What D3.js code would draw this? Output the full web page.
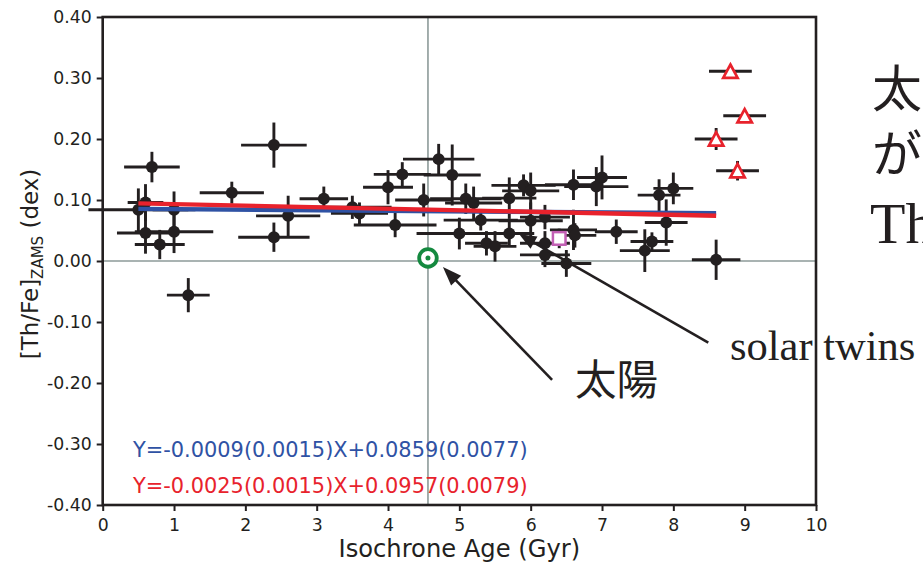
<!DOCTYPE html>
<html>
<head>
<meta charset="utf-8">
<script src="https://cdn.jsdelivr.net/npm/d3@7"></script>
<style>
  body { margin: 0; background: #fff; }
  svg { display: block; }
</style>
</head>
<body>
<svg id="chart" width="923" height="563"></svg>
<script>
// ---- data ---------------------------------------------------------------
// solar twins: isochrone age (Gyr), [Th/Fe]_ZAMS (dex) and their 1-sigma errors
const twinAge = [0.69, 2.40, 1.81, 1.20, 0.60, 0.50, 1.00, 0.60, 1.00, 0.80,
                 2.60, 2.40, 3.10, 3.50, 3.60, 4.00, 4.20, 4.71, 4.90, 4.50,
                 4.10, 5.09, 5.20, 5.30, 5.00, 5.38, 5.50, 5.70, 5.70, 5.90,
                 6.00, 6.00, 6.20, 6.20, 6.20, 6.50, 6.60, 6.60, 6.62, 6.92,
                 7.00, 7.20, 7.80, 8.00, 7.90, 7.70, 7.60, 8.60];
const twinThFe = [0.154, 0.190, 0.112, -0.056, 0.096, 0.084, 0.084, 0.046, 0.048, 0.027,
                  0.074, 0.039, 0.102, 0.088, 0.078, 0.121, 0.142, 0.167, 0.141, 0.100,
                  0.059, 0.102, 0.095, 0.067, 0.045, 0.029, 0.024, 0.103, 0.045, 0.124,
                  0.115, 0.066, 0.072, 0.029, 0.010, -0.004, 0.125, 0.051, 0.042, 0.122,
                  0.137, 0.048, 0.108, 0.119, 0.063, 0.032, 0.017, 0.002];
const twinAgeErr = [0.39, 0.46, 0.45, 0.30, 0.25, 0.70, 0.30, 0.40, 0.55, 0.35,
                    0.45, 0.50, 0.34, 0.55, 0.40, 0.35, 0.40, 0.50, 0.40, 0.40,
                    0.58, 0.50, 0.40, 0.52, 0.60, 0.30, 0.30, 0.38, 0.35, 0.45,
                    0.40, 0.45, 0.35, 0.35, 0.35, 0.35, 0.40, 0.33, 0.30, 0.45,
                    0.35, 0.30, 0.30, 0.28, 0.30, 0.30, 0.35, 0.34];
const twinThFeErr = [0.025, 0.037, 0.018, 0.028, 0.030, 0.035, 0.030, 0.034, 0.035, 0.024,
                     0.033, 0.024, 0.020, 0.019, 0.018, 0.028, 0.020, 0.025, 0.050, 0.027,
                     0.020, 0.025, 0.027, 0.017, 0.026, 0.020, 0.025, 0.034, 0.022, 0.018,
                     0.030, 0.030, 0.020, 0.020, 0.020, 0.022, 0.025, 0.033, 0.020, 0.032,
                     0.036, 0.020, 0.026, 0.026, 0.038, 0.015, 0.035, 0.033];

// oldest stars, plotted as open triangles
const oldAge = [8.80, 9.00, 8.60, 8.90];
const oldThFe = [0.311, 0.238, 0.200, 0.148];
const oldAgeErr = [0.30, 0.30, 0.30, 0.30];
const oldThFeErr = [0.004, 0.004, 0.018, 0.016];

// the Sun and one special twin (open square)
const sunAge = 4.56, sunThFe = 0.005;
const squareAge = 6.4, squareThFe = 0.037, squareThFeErr = 0.016;

// linear fits Y = a X + b (blue: all twins, red: alternative sample)
const fitSlope = [-0.0009, -0.0025];
const fitIntercept = [0.0859, 0.0957];
const fitAgeRange = [0.5, 8.6];
const fitLabels = ["Y=-0.0009(0.0015)X+0.0859(0.0077)",
                   "Y=-0.0025(0.0015)X+0.0957(0.0079)"];
const fitColors = ["#2f52a4", "#e8222c"];

// axis ticks
const xTicks = [0, 1, 2, 3, 4, 5, 6, 7, 8, 9, 10];
const yTicks = [-0.4, -0.3, -0.2, -0.1, 0.0, 0.1, 0.2, 0.3, 0.4];
const yTickLabels = ["-0.40", "-0.30", "-0.20", "-0.10", "0.00", "0.10", "0.20", "0.30", "0.40"];

// ---- layout -------------------------------------------------------------
const ink = "#231f20";
const svg = d3.select("#chart");
const x = d3.scaleLinear().domain([0, 10]).range([102.7, 816]);
const y = d3.scaleLinear().domain([-0.4, 0.4]).range([505, 17]);

// side text that runs behind the plot frame
const side = svg.append("g").attr("fill", ink);
side.append("text").attr("x", 872).attr("y", 107)
  .style("font", "50px 'Noto Sans CJK JP'").text("太");
side.append("text").attr("x", 872).attr("y", 172)
  .style("font", "50px 'Noto Sans CJK JP'").text("が");
side.append("text").attr("x", 870).attr("y", 243)
  .style("font", "58px 'Liberation Serif'").text("Th");
side.append("text").attr("x", 730).attr("y", 360)
  .style("font", "42.5px 'Liberation Serif'").text("solar twins");
side.append("text").attr("x", 575).attr("y", 395)
  .style("font", "41.5px 'Noto Sans CJK JP'").text("太陽");

// reference lines through the Sun
svg.append("line")
  .attr("x1", x(sunAge)).attr("x2", x(sunAge)).attr("y1", y(0.4)).attr("y2", y(-0.4))
  .attr("stroke", "#8c9a99").attr("stroke-width", 1.6);
svg.append("line")
  .attr("x1", x(0)).attr("x2", x(10)).attr("y1", y(0)).attr("y2", y(0))
  .attr("stroke", "#8c9a99").attr("stroke-width", 1.6);

// error bars
const twins = twinAge.map((a, i) => ({a, v: twinThFe[i], ea: twinAgeErr[i], ev: twinThFeErr[i]}));
const olds = oldAge.map((a, i) => ({a, v: oldThFe[i], ea: oldAgeErr[i], ev: oldThFeErr[i]}));
const bars = svg.append("g").attr("stroke", ink).attr("stroke-width", 2.9);
[...twins, ...olds].forEach(d => {
  bars.append("line").attr("x1", x(d.a - d.ea)).attr("x2", x(d.a + d.ea))
    .attr("y1", y(d.v)).attr("y2", y(d.v));
  bars.append("line").attr("x1", x(d.a)).attr("x2", x(d.a))
    .attr("y1", y(d.v - d.ev)).attr("y2", y(d.v + d.ev));
});
bars.append("line").attr("x1", x(squareAge)).attr("x2", x(squareAge))
  .attr("y1", y(squareThFe - squareThFeErr)).attr("y2", y(squareThFe + squareThFeErr));

// twin points
svg.append("g").selectAll("circle").data(twins).join("circle")
  .attr("cx", d => x(d.a)).attr("cy", d => y(d.v)).attr("r", 6).attr("fill", ink);

// fit lines
const fits = fitSlope.map((s, i) => ({s, b: fitIntercept[i], c: fitColors[i]}));
const fitLine = d3.line().x(p => x(p[0])).y(p => y(p[1]));
svg.append("g").selectAll("path").data(fits).join("path")
  .attr("d", f => fitLine(fitAgeRange.map(a => [a, f.s * a + f.b])))
  .attr("stroke", f => f.c).attr("stroke-width", 4.4).attr("fill", "none");

// old stars: open red triangles
svg.append("g").selectAll("path").data(olds).join("path")
  .attr("transform", d => `translate(${x(d.a)},${y(d.v)})`)
  .attr("d", "M0,-6.8L7.2,6.6L-7.2,6.6Z")
  .attr("fill", "#fff").attr("stroke", "#e8222c").attr("stroke-width", 2.7)
  .attr("stroke-linejoin", "miter");

// special twin: open square
svg.append("rect")
  .attr("x", x(squareAge) - 6.3).attr("y", y(squareThFe) - 6.3)
  .attr("width", 12.6).attr("height", 12.6)
  .attr("fill", "#fff").attr("stroke", "#c25fb4").attr("stroke-width", 2.5);

// the Sun
svg.append("circle").attr("cx", x(sunAge)).attr("cy", y(sunThFe)).attr("r", 8.8)
  .attr("fill", "#fff").attr("stroke", "#14893f").attr("stroke-width", 3.8);
svg.append("circle").attr("cx", x(sunAge)).attr("cy", y(sunThFe)).attr("r", 2.5)
  .attr("fill", "#14893f");

// annotation arrows (tail -> tip, in data units)
function arrow(tail, tip, len, wid) {
  const T = [x(tail[0]), y(tail[1])], P = [x(tip[0]), y(tip[1])];
  const dx = P[0] - T[0], dy = P[1] - T[1], L = Math.hypot(dx, dy);
  const ux = dx / L, uy = dy / L, nx = -uy, ny = ux;
  const B = [P[0] - ux * len, P[1] - uy * len];
  svg.append("line").attr("x1", T[0]).attr("y1", T[1])
    .attr("x2", B[0] + ux * 2).attr("y2", B[1] + uy * 2)
    .attr("stroke", ink).attr("stroke-width", 2.6);
  svg.append("path")
    .attr("d", `M${P[0]},${P[1]}L${B[0] + nx * wid / 2},${B[1] + ny * wid / 2}L${B[0] - nx * wid / 2},${B[1] - ny * wid / 2}Z`)
    .attr("fill", ink);
}
arrow([6.30, -0.195], [4.77, -0.0098], 19, 14);
arrow([8.49, -0.134], [5.84, 0.044], 17, 14);

// fit equations
svg.append("g").selectAll("text").data(fitLabels).join("text")
  .attr("x", 133).attr("y", (d, i) => [456.5, 493][i])
  .attr("fill", (d, i) => fitColors[i])
  .style("font", "20.9px 'DejaVu Sans'").text(d => d);

// axes
const xAxis = svg.append("g").attr("transform", `translate(0,${y(-0.4)})`)
  .call(d3.axisBottom(x).tickValues(xTicks).tickFormat(d3.format("d")).tickSize(6).tickPadding(8));
const yAxis = svg.append("g").attr("transform", `translate(${x(0)},0)`)
  .call(d3.axisLeft(y).tickValues(yTicks).tickFormat((d, i) => yTickLabels[i]).tickSize(6).tickPadding(5));
[xAxis, yAxis].forEach(g => {
  g.select(".domain").remove();
  g.selectAll(".tick line").attr("stroke", ink).attr("stroke-width", 2);
  g.selectAll(".tick text").attr("fill", ink).style("font", "17.3px 'DejaVu Sans'");
});

// plot frame
svg.append("rect")
  .attr("x", x(0)).attr("y", y(0.4))
  .attr("width", x(10) - x(0)).attr("height", y(-0.4) - y(0.4))
  .attr("fill", "none").attr("stroke", ink).attr("stroke-width", 2.6);

// axis titles
svg.append("text").attr("x", x(5)).attr("y", 557).attr("text-anchor", "middle")
  .attr("fill", ink).style("font", "24.2px 'DejaVu Sans'").text("Isochrone Age (Gyr)");
const yt = svg.append("text").attr("transform", "translate(38,264) rotate(-90)")
  .attr("text-anchor", "middle").attr("fill", ink).style("font", "23px 'DejaVu Sans'");
yt.append("tspan").text("[Th/Fe]");
yt.append("tspan").attr("dy", 5).style("font-size", "15px").text("ZAMS");
yt.append("tspan").attr("dy", -5).text(" (dex)");
</script>
</body>
</html>
